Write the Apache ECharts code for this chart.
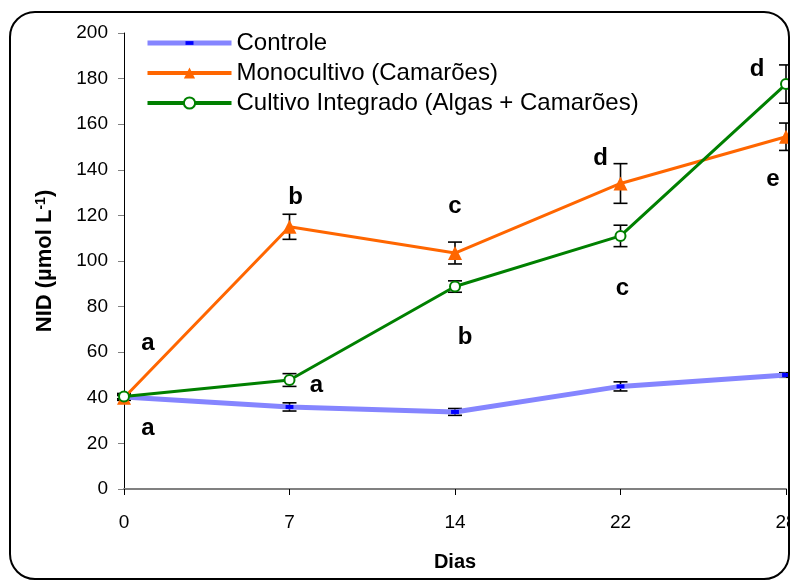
<!DOCTYPE html>
<html><head><meta charset="utf-8">
<script src="https://cdn.jsdelivr.net/npm/echarts@6/dist/echarts.min.js"></script>
<style>html,body{margin:0;padding:0;background:#fff}#c{width:790px;height:580px}</style>
</head><body><div id="c"></div>
<script>
const days = ['0', '7', '14', '22', '28'];
const seriesNames = ['Controle', 'Monocultivo (Camarões)', 'Cultivo Integrado (Algas + Camarões)'];
const controle = [40.4, 36, 33.8, 45, 50];
const controleErr = [1.5, 1.8, 1.5, 2, 1];
const mono = [40, 115, 103.5, 134, 154.5];
const monoErr = [1, 5.5, 4.8, 8.7, 6];
const integ = [40.6, 47.8, 88.8, 111, 177.6];
const integErr = [1, 2.8, 2.5, 4.7, 8.4];
const letters = ['a', 'a', 'b', 'a', 'c', 'b', 'd', 'c', 'd', 'e'];
const letterDay = [0, 0, 1, 1, 2, 2, 3, 3, 4, 4];
const letterValue = [64, 26.8, 128, 45.4, 124, 66.7, 145, 88, 184, 135.7];

const FONT = 'Liberation Sans, Arial, sans-serif';
const letterDx = [24, 24, 6, 27, 0, 10, -20, 2, -29, -13];
// small flat dash marker, padded so the legend keeps it small
const DASH = 'path://M0,0M14,12M2,4L12,4L12,8L2,8Z';

function errSeries(vals, errs) {
  return {
    type: 'custom', z: 1, silent: true, clip: false,
    data: vals.map((v, i) => [i, v - errs[i], v + errs[i]]),
    encode: { x: 0, y: [1, 2] },
    renderItem(params, api) {
      const lo = api.coord([api.value(0), api.value(1)]);
      const hi = api.coord([api.value(0), api.value(2)]);
      const w = 7, st = { stroke: '#000', lineWidth: 1.6 };
      return { type: 'group', children: [
        { type: 'line', shape: { x1: lo[0], y1: lo[1], x2: hi[0], y2: hi[1] }, style: st },
        { type: 'line', shape: { x1: lo[0] - w, y1: lo[1], x2: lo[0] + w, y2: lo[1] }, style: st },
        { type: 'line', shape: { x1: hi[0] - w, y1: hi[1], x2: hi[0] + w, y2: hi[1] }, style: st }
      ] };
    }
  };
}

const chart = echarts.init(document.getElementById('c'));
chart.setOption({
  animation: false,
  backgroundColor: '#fff',
  graphic: [{
    type: 'rect', z: 100, silent: true,
    shape: { x: 10, y: 12, width: 779, height: 567, r: 25 },
    style: { fill: null, stroke: '#000', lineWidth: 2 }
  }],
  grid: { left: 124, right: 4, top: 33, bottom: 91, containLabel: false, outerBoundsMode: 'none' },
  legend: {
    data: [
      { name: seriesNames[0], lineStyle: { width: 5 } },
      { name: seriesNames[1], lineStyle: { width: 4 } },
      { name: seriesNames[2], lineStyle: { width: 4 } }
    ],
    orient: 'vertical', left: 145, top: 31, padding: 0,
    itemWidth: 84, itemHeight: 14, itemGap: 6,
    textStyle: { fontFamily: FONT, fontSize: 24, color: '#000' }
  },
  xAxis: {
    type: 'category', data: days, boundaryGap: false,
    axisLine: { lineStyle: { color: '#808080', width: 2 } },
    axisTick: { show: true, length: 6, lineStyle: { color: '#000' } },
    axisLabel: { fontFamily: FONT, fontSize: 19, color: '#000', margin: 24 },
    name: 'Dias', nameLocation: 'middle', nameGap: 63,
    nameTextStyle: { fontFamily: FONT, fontSize: 20, fontWeight: 'bold', color: '#000' }
  },
  yAxis: {
    type: 'value', min: 0, max: 200, interval: 20,
    axisLine: { show: true, lineStyle: { color: '#000', width: 1 } },
    axisTick: { show: true, length: 6, lineStyle: { color: '#808080' } },
    splitLine: { show: false },
    axisLabel: { fontFamily: FONT, fontSize: 19, color: '#000', margin: 16 },
    name: '{a|NID (µmol L}{s|-1}{a|)}', nameLocation: 'middle', nameGap: 68,
    nameTextStyle: {
      rich: {
        a: { fontFamily: FONT, fontSize: 22, fontWeight: 'bold', color: '#000' },
        s: { fontFamily: FONT, fontSize: 14, fontWeight: 'bold', color: '#000', verticalAlign: 'top' }
      }
    }
  },
  series: [
    errSeries(controle, controleErr),
    errSeries(mono, monoErr),
    errSeries(integ, integErr),
    {
      name: seriesNames[0], type: 'line', z: 2, data: controle, clip: false,
      symbol: DASH, symbolSize: [11, 12], showAllSymbol: true,
      itemStyle: { color: '#0000ff' },
      lineStyle: { color: '#8585ff', width: 5 }
    },
    {
      name: seriesNames[1], type: 'line', z: 3, data: mono, clip: false,
      symbol: 'triangle', symbolSize: 14,
      itemStyle: { color: '#ff6600' },
      lineStyle: { color: '#ff6600', width: 3 }
    },
    {
      name: seriesNames[2], type: 'line', z: 4, data: integ, clip: false,
      symbol: 'emptyCircle', symbolSize: 10,
      itemStyle: { color: '#008000', borderWidth: 2 },
      lineStyle: { color: '#008000', width: 3 }
    },
    {
      type: 'custom', z: 10, silent: true, clip: false,
      data: letterValue.map((v, i) => [letterDay[i], v]),
      encode: { x: 0, y: 1 },
      renderItem(params, api) {
        const p = api.coord([api.value(0), api.value(1)]);
        const i = params.dataIndex;
        return { type: 'text', x: p[0] + letterDx[i], y: p[1],
          style: { text: letters[i], fontFamily: FONT, fontSize: 24, fontWeight: 'bold',
            fill: '#000', align: 'center', verticalAlign: 'middle' } };
      }
    }
  ]
});
</script>
</body></html>
